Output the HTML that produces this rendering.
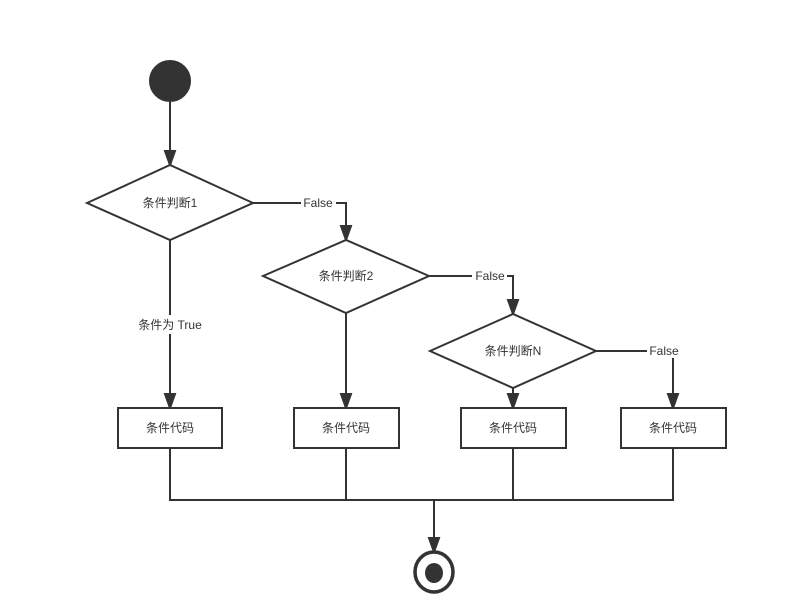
<!DOCTYPE html>
<html><head><meta charset="utf-8"><style>
html,body{margin:0;padding:0;background:#fff;}
svg{display:block;}
text{font-family:"Liberation Sans","Noto Sans CJK SC",sans-serif;font-size:12px;fill:#333;}
</style></head><body>
<svg width="788" height="605" viewBox="0 0 788 605" xmlns="http://www.w3.org/2000/svg">
<defs><marker id="a" markerWidth="10" markerHeight="14" refX="5" refY="13" orient="auto-start-reverse" markerUnits="userSpaceOnUse" viewBox="0 0 10 14"><path d="M0,0 L10,0 L5,14 Z" fill="#333" transform="rotate(0)"/></marker></defs>
<g stroke="#333" stroke-width="2" fill="none">
<circle cx="170" cy="81" r="20" fill="#333"/>
<line x1="170" y1="101" x2="170" y2="151"/><path d="M165,151 L175,151 L170,165 Z" fill="#333"/>
<polygon points="87,203 170,165 253,203 170,240" fill="#fff"/>
<line x1="170" y1="240" x2="170" y2="315"/><line x1="170" y1="334" x2="170" y2="394"/><path d="M165,394 L175,394 L170,408 Z" fill="#333"/>
<path d="M253,203 H301 M336,203 H346 V226"/><path d="M341,226 L351,226 L346,240 Z" fill="#333"/>
<polygon points="263,276 346,240 429,276 346,313" fill="#fff"/>
<line x1="346" y1="313" x2="346" y2="394"/><path d="M341,394 L351,394 L346,408 Z" fill="#333"/>
<path d="M429,276 H472 M507,276 H513 V300"/><path d="M508,300 L518,300 L513,314 Z" fill="#333"/>
<polygon points="430,351 513,314 596,351 513,388" fill="#fff"/>
<line x1="513" y1="388" x2="513" y2="394"/><path d="M508,394 L518,394 L513,408 Z" fill="#333"/>
<path d="M596,351 H647 M673,358 V394"/><path d="M668,394 L678,394 L673,408 Z" fill="#333"/>
<rect x="118" y="408" width="104" height="40" fill="#fff"/>
<rect x="294" y="408" width="105" height="40" fill="#fff"/>
<rect x="461" y="408" width="105" height="40" fill="#fff"/>
<rect x="621" y="408" width="105" height="40" fill="#fff"/>
<path d="M170,448 V500 H673 V448 M346,448 V500 M513,448 V500"/>
<line x1="434" y1="500" x2="434" y2="538"/><path d="M429,538 L439,538 L434,552 Z" fill="#333"/>
<ellipse cx="434" cy="572" rx="19" ry="20" stroke-width="3.5" fill="#fff"/>
<ellipse cx="434" cy="573" rx="9" ry="10" fill="#333" stroke="none"/>
</g>
<g text-anchor="middle">
<text x="170" y="207">条件判断1</text>
<text x="346" y="280">条件判断2</text>
<text x="513" y="355">条件判断N</text>
<text x="170" y="329">条件为 True</text>
<text x="318" y="207">False</text>
<text x="490" y="280">False</text>
<text x="664" y="355">False</text>
<text x="170" y="432">条件代码</text>
<text x="346" y="432">条件代码</text>
<text x="513" y="432">条件代码</text>
<text x="673" y="432">条件代码</text>
</g>
</svg>
</body></html>
